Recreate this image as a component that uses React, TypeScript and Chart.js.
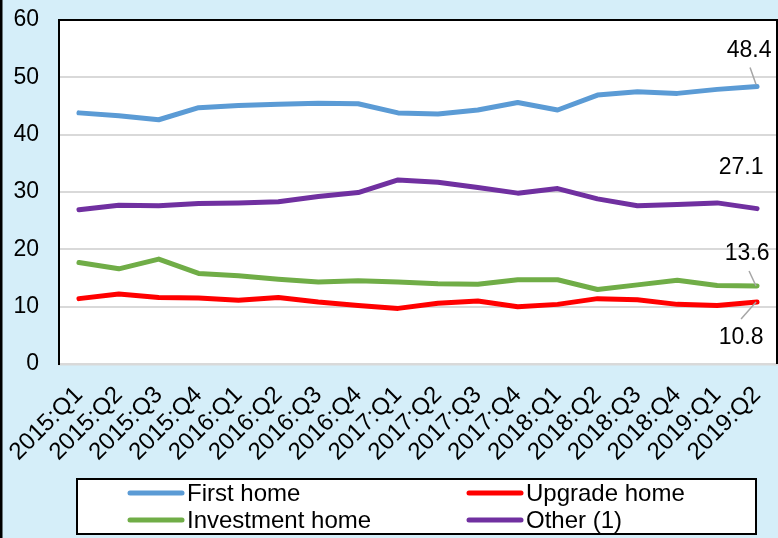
import React, { useEffect, useRef } from "react";
import { Chart, registerables } from "chart.js";

Chart.register(...registerables);

const categories = [
  "2015:Q1", "2015:Q2", "2015:Q3", "2015:Q4",
  "2016:Q1", "2016:Q2", "2016:Q3", "2016:Q4",
  "2017:Q1", "2017:Q2", "2017:Q3", "2017:Q4",
  "2018:Q1", "2018:Q2", "2018:Q3", "2018:Q4",
  "2019:Q1", "2019:Q2",
];

const firstHome = [43.8, 43.3, 42.6, 44.7, 45.1, 45.3, 45.5, 45.4, 43.8, 43.6, 44.3, 45.6, 44.3, 46.9, 47.5, 47.2, 47.9, 48.4];
const upgradeHome = [11.4, 12.2, 11.6, 11.5, 11.1, 11.6, 10.8, 10.2, 9.7, 10.6, 11.0, 10.0, 10.4, 11.4, 11.2, 10.4, 10.2, 10.8];
const investmentHome = [17.7, 16.6, 18.3, 15.8, 15.4, 14.8, 14.3, 14.5, 14.3, 14.0, 13.9, 14.7, 14.7, 13.0, 13.8, 14.6, 13.7, 13.6];
const otherHome = [26.9, 27.7, 27.6, 28.0, 28.1, 28.3, 29.2, 29.9, 32.1, 31.7, 30.8, 29.8, 30.6, 28.8, 27.6, 27.8, 28.1, 27.1];

const seriesNames = ["First home", "Upgrade home", "Investment home", "Other (1)"];
const seriesColors = ["#5B9BD5", "#FF0000", "#70AD47", "#7030A0"];

const yMin = 0;
const yMax = 60;
const yStep = 10;

const FONT = "'Liberation Sans', Arial, sans-serif";
const BG = "#D5EEF9";

// label placement for last-point value labels (presentation only)
const endLabels = [
  { dx: -8, dy: -36, leader: [-7, -19, -1, -2] },
  { dx: -16, dy: 36, leader: [-16, 17, -1, 0] },
  { dx: -10, dy: -32, leader: [-8, -15, -1, 0] },
  { dx: -16, dy: -41, leader: null },
];

const framePlugin = {
  id: "frame",
  beforeDraw(chart: any) {
    const { ctx, chartArea: a, width, height } = chart;
    ctx.save();
    ctx.fillStyle = BG;
    ctx.fillRect(0, 0, width, height);
    ctx.fillStyle = "#000";
    ctx.fillRect(0, 0, 2.5, height);
    ctx.fillStyle = "#FFFFFF";
    ctx.fillRect(a.left, a.top, a.right - a.left, a.bottom - a.top);
    ctx.restore();
  },
  afterDraw(chart: any) {
    const { ctx, chartArea: a } = chart;
    ctx.save();
    ctx.strokeStyle = "#000";
    ctx.lineWidth = 2;
    ctx.beginPath();
    ctx.moveTo(a.left - 1, a.top);
    ctx.lineTo(a.right, a.top);
    ctx.lineTo(a.right, a.bottom);
    ctx.stroke();
    ctx.restore();
  },
};

const endLabelPlugin = {
  id: "endLabels",
  afterDatasetsDraw(chart: any) {
    const { ctx } = chart;
    ctx.save();
    chart.data.datasets.forEach((ds: any, i: number) => {
      const meta = chart.getDatasetMeta(i);
      const last = meta.data[meta.data.length - 1];
      if (!last) return;
      const px = last.x;
      const py = last.y;
      const cfg = endLabels[i];
      const v = ds.data[ds.data.length - 1];
      if (cfg.leader) {
        ctx.strokeStyle = "#A6A6A6";
        ctx.lineWidth = 1.5;
        ctx.beginPath();
        ctx.moveTo(px + cfg.leader[0], py + cfg.leader[1]);
        ctx.lineTo(px + cfg.leader[2], py + cfg.leader[3]);
        ctx.stroke();
      }
      ctx.fillStyle = "#000";
      ctx.font = `23px ${FONT}`;
      ctx.textAlign = "center";
      ctx.textBaseline = "middle";
      ctx.fillText(Number(v).toFixed(1), px + cfg.dx, py + cfg.dy);
    });
    ctx.restore();
  },
};

const legendPlugin = {
  id: "boxLegend",
  afterDraw(chart: any) {
    const { ctx } = chart;
    const box = { x: 77, y: 479, w: 679, h: 55 };
    ctx.save();
    ctx.fillStyle = "#FFFFFF";
    ctx.fillRect(box.x, box.y, box.w, box.h);
    ctx.strokeStyle = "#000";
    ctx.lineWidth = 2;
    ctx.strokeRect(box.x, box.y, box.w, box.h);
    const cols = [128, 467];
    const rows = [493, 520];
    chart.data.datasets.forEach((ds: any, i: number) => {
      const cx = cols[i % 2];
      const cy = rows[Math.floor(i / 2)];
      ctx.strokeStyle = ds.borderColor;
      ctx.lineWidth = 5;
      ctx.lineCap = "round";
      ctx.beginPath();
      ctx.moveTo(cx + 2, cy);
      ctx.lineTo(cx + 54, cy);
      ctx.stroke();
      ctx.fillStyle = "#000";
      ctx.font = `24px ${FONT}`;
      ctx.textAlign = "left";
      ctx.textBaseline = "alphabetic";
      ctx.fillText(ds.label, cx + 59, cy + 8);
    });
    ctx.restore();
  },
};

export default function App() {
  const ref = useRef<HTMLCanvasElement | null>(null);

  useEffect(() => {
    document.body.style.margin = "0";
    if (!ref.current) return;
    const seriesData = [firstHome, upgradeHome, investmentHome, otherHome];
    const chart = new Chart(ref.current, {
      type: "line",
      data: {
        labels: categories,
        datasets: seriesData.map((d, i) => ({
          label: seriesNames[i],
          data: d,
          borderColor: seriesColors[i],
          backgroundColor: seriesColors[i],
          borderWidth: 5,
          borderCapStyle: "round",
          borderJoinStyle: "round",
          pointRadius: 0,
          tension: 0,
          fill: false,
        })),
      },
      options: {
        animation: false,
        responsive: false,
        devicePixelRatio: 1,
        layout: { padding: { top: 20, right: 1, bottom: 74, left: 0 } },
        plugins: {
          legend: { display: false },
          tooltip: { enabled: false },
        },
        scales: {
          x: {
            offset: true,
            grid: { display: false, drawTicks: false },
            border: { display: true, color: "#D9D9D9", width: 2.5 },
            ticks: {
              autoSkip: false,
              minRotation: 45,
              maxRotation: 45,
              padding: 17,
              color: "#000",
              font: { family: FONT, size: 24 },
            },
            afterFit: (s: any) => {
              s.height = 100;
              s.paddingLeft = 0;
              s.paddingRight = 0;
              s.paddingTop = 0;
              s.paddingBottom = 0;
            },
          },
          y: {
            min: yMin,
            max: yMax,
            grid: { color: "#D9D9D9", lineWidth: 2, drawTicks: false },
            border: { display: true, color: "#000", width: 2 },
            ticks: {
              stepSize: yStep,
              padding: 20,
              color: "#000",
              font: { family: FONT, size: 23 },
            },
            afterFit: (s: any) => {
              s.width = 59;
              s.paddingLeft = 0;
              s.paddingRight = 0;
              s.paddingTop = 0;
              s.paddingBottom = 0;
            },
          },
        },
      } as any,
      plugins: [framePlugin, endLabelPlugin, legendPlugin],
    });
    return () => chart.destroy();
  }, []);

  return (
    <div style={{ position: "absolute", left: 0, top: 0, width: 778, height: 538 }}>
      <canvas ref={ref} width={778} height={538} style={{ display: "block", width: 778, height: 538 }} />
    </div>
  );
}
